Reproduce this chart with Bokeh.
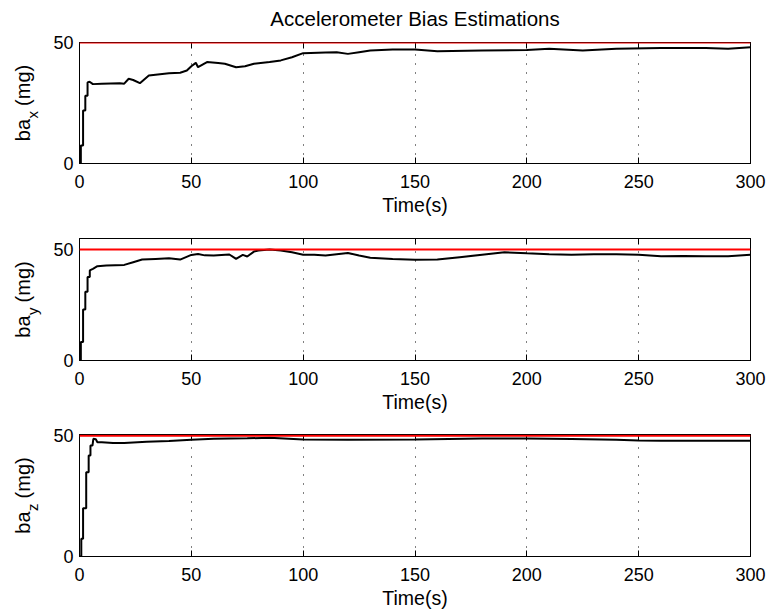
import math
from bokeh.plotting import figure
from bokeh.models import Span, Label, LinearAxis, FixedTicker, Range1d
from bokeh.layouts import column, row
from bokeh.embed import file_html
from bokeh.resources import INLINE

FONT = "Liberation Sans"

# ---------------- data ----------------
title_text = "Accelerometer Bias Estimations"
x_label = "Time(s)"
y_label_main = "ba"
y_label_subs = ["x", "y", "z"]
y_label_unit = "(mg)"
x_ticks = [0, 50, 100, 150, 200, 250, 300]
y_ticks = [0, 50]
x_limits = [0, 300]
y_limits_top = [50, 55, 50.5]
true_bias = [50, 50, 50]

t_x = [0, 0.6, 0.6, 1.6, 1.6, 2.6, 2.6, 3.6, 3.6, 4.5, 6, 10, 18, 20, 22, 24, 27, 31, 35, 40, 45, 48,
       50, 52, 53, 57, 62, 65, 70, 74, 78, 85, 90, 95, 100, 110, 115, 120, 125, 130, 140, 150, 160,
       180, 200, 210, 225, 240, 260, 280, 290, 300]
ba_x = [0, 0, 7.4, 7.4, 21.9, 21.9, 28, 28, 33.5, 33.8, 32.8, 33, 33.2, 33, 35, 34.5, 33.2, 36.4, 36.8,
        37.3, 37.5, 38.4, 40.2, 41.6, 39.8, 41.9, 41.5, 41.2, 39.8, 40.2, 41.2, 41.9, 42.6, 43.9, 45.6,
        45.9, 46.0, 45.3, 46.0, 46.7, 47.1, 47.1, 46.4, 46.7, 46.9, 47.4, 46.7, 47.4, 47.7, 47.7, 47.4, 48]

t_y = [0, 0.6, 0.6, 1.6, 1.6, 2.6, 2.6, 3.6, 3.6, 4.6, 4.6, 6, 8, 12, 20, 24, 28, 34, 40, 45, 50, 53,
       56, 60, 67, 70, 73, 75, 78, 80, 85, 90, 95, 100, 105, 110, 115, 120, 125, 130, 140, 150, 160,
       170, 180, 190, 200, 210, 220, 230, 240, 250, 260, 270, 280, 290, 300]
ba_y = [0, 0, 8.3, 8.3, 23, 23, 31, 31, 37.6, 37.6, 40.6, 41.3, 42.5, 42.8, 43.1, 44.3, 45.5, 45.8,
        46.1, 45.5, 47.6, 48.0, 47.4, 47.3, 47.8, 45.8, 47.6, 46.9, 49.1, 49.6, 50, 49.6, 48.8, 47.7,
        47.7, 47.3, 47.9, 48.5, 47.3, 46.3, 45.8, 45.4, 45.5, 46.6, 47.7, 48.8, 48.3, 47.9, 47.7, 47.9,
        47.9, 47.7, 47.0, 47.1, 47.0, 47.0, 47.7]

t_z = [0, 0.8, 0.8, 1.6, 1.6, 3.0, 3.0, 4.1, 4.1, 4.9, 4.9, 5.8, 6.2, 7.3, 8, 10, 15, 20, 30, 40, 50,
       60, 75, 85, 100, 120, 150, 180, 200, 220, 240, 250, 260, 280, 300]
ba_z = [0, 0, 7.3, 7.3, 20, 20, 34.9, 34.9, 41.8, 41.8, 45.9, 45.9, 48.7, 48.5, 47.3, 47.3, 47.0, 47.0,
        47.5, 47.8, 48.3, 48.7, 48.9, 49.2, 48.4, 48.3, 48.4, 48.8, 48.8, 48.6, 48.3, 48.0, 47.9, 47.9,
        47.9]

series_t = [t_x, t_y, t_z]
series_v = [ba_x, ba_y, ba_z]

# ---------------- layout (pixels) ----------------
W, H = 768, 616
TITLE_H = 30
LABEL_W = 45
FRAME_LEFT, FRAME_RIGHT = 79, 750
frame_tops = [42, 238, 434]
frame_heights = [121, 122, 122]
border_bottom = 60
main_w = W - LABEL_W
BASE_SHIFT = 0.35  # em offset between requested anchor and drawn baseline


def style_axis(ax, ticks, font_size="18px"):
    ax.ticker = FixedTicker(ticks=ticks)
    ax.axis_line_color = "black"
    ax.axis_line_width = 1
    ax.major_tick_in = 6
    ax.major_tick_out = 0
    ax.major_tick_line_color = "black"
    ax.minor_tick_line_color = None
    ax.major_label_text_font = FONT
    ax.major_label_text_font_size = font_size
    ax.major_label_text_color = "black"


figs = []
prev_bottom = TITLE_H
for i in range(3):
    top_border = frame_tops[i] - prev_bottom
    fig_h = top_border + frame_heights[i] + border_bottom
    prev_bottom = frame_tops[i] + frame_heights[i] + border_bottom
    p = figure(width=main_w, height=fig_h, output_backend="svg", toolbar_location=None,
               x_range=Range1d(x_limits[0], x_limits[1]),
               y_range=Range1d(0, y_limits_top[i]),
               min_border_left=FRAME_LEFT - LABEL_W, min_border_right=W - FRAME_RIGHT,
               min_border_top=top_border, min_border_bottom=border_bottom)
    p.outline_line_color = "black"
    p.outline_line_width = 1
    p.background_fill_color = "white"
    p.border_fill_color = "white"

    xa = p.xaxis[0]
    style_axis(xa, x_ticks)
    xa.major_label_standoff = 11
    xa.axis_label = x_label
    xa.axis_label_text_font = FONT
    xa.axis_label_text_font_size = "19.5px"
    xa.axis_label_text_font_style = "normal"
    xa.axis_label_text_color = "black"
    xa.axis_label_standoff = 3

    ya = p.yaxis[0]
    style_axis(ya, y_ticks)
    ya.major_label_standoff = 6

    top_ax = LinearAxis(major_label_overrides={t: "" for t in x_ticks})
    style_axis(top_ax, x_ticks, "1px")
    top_ax.major_label_standoff = 0
    p.add_layout(top_ax, "above")
    right_ax = LinearAxis(major_label_overrides={t: "" for t in y_ticks})
    style_axis(right_ax, y_ticks, "1px")
    right_ax.major_label_standoff = 0
    p.add_layout(right_ax, "right")

    p.xgrid.ticker = FixedTicker(ticks=x_ticks)
    p.xgrid.grid_line_color = "black"
    p.xgrid.grid_line_dash = "1 8"
    p.xgrid.grid_line_width = 1
    p.ygrid.grid_line_color = None

    p.line(series_t[i], series_v[i], line_color="black", line_width=2)
    p.add_layout(Span(location=true_bias[i], dimension="width",
                      line_color="#ff0000", line_width=2))
    figs.append(p)

# title strip (data coords == canvas pixels)
title_fs = 20.5
tfig = figure(width=W, height=TITLE_H, output_backend="svg", toolbar_location=None,
              x_range=Range1d(0, W), y_range=Range1d(TITLE_H, 0),
              min_border=0, outline_line_color=None)
tfig.axis.visible = False
tfig.grid.visible = False
tfig.add_layout(Label(x=(FRAME_LEFT + FRAME_RIGHT) / 2, y=25 - BASE_SHIFT * title_fs,
                      text=title_text, text_align="center", text_baseline="alphabetic",
                      text_font=FONT, text_font_size=f"{title_fs}px", text_color="black"))

# y-label strip (data coords == canvas pixels)
lfig = figure(width=LABEL_W, height=H - TITLE_H, output_backend="svg", toolbar_location=None,
              x_range=Range1d(0, LABEL_W), y_range=Range1d(H, TITLE_H),
              min_border=0, outline_line_color=None)
lfig.axis.visible = False
lfig.grid.visible = False
fs_main, fs_sub = 20, 15
w_main = 1.112 * fs_main
w_sub = 0.5 * fs_sub
w_space = 0.278 * fs_main
w_unit = 2.055 * fs_main
total = w_main + w_sub + w_space + w_unit
base_main = 29
base_sub = 37
for i in range(3):
    center = frame_tops[i] + frame_heights[i] / 2
    y0 = center + total / 2
    lfig.add_layout(Label(x=base_main - BASE_SHIFT * fs_main, y=y0, angle=math.pi / 2,
                          text=y_label_main, text_align="left", text_baseline="alphabetic",
                          text_font=FONT, text_font_size=f"{fs_main}px", text_color="black"))
    lfig.add_layout(Label(x=base_sub - BASE_SHIFT * fs_sub, y=y0 - w_main - 0.5,
                          angle=math.pi / 2, text=y_label_subs[i], text_align="left",
                          text_baseline="alphabetic", text_font=FONT,
                          text_font_size=f"{fs_sub}px", text_color="black"))
    lfig.add_layout(Label(x=base_main - BASE_SHIFT * fs_main, y=y0 - w_main - w_sub - w_space,
                          angle=math.pi / 2, text=y_label_unit, text_align="left",
                          text_baseline="alphabetic", text_font=FONT,
                          text_font_size=f"{fs_main}px", text_color="black"))

layout = column(tfig, row(lfig, column(*figs, spacing=0), spacing=0), spacing=0)
open("out.html", "w").write(file_html(layout, INLINE))
